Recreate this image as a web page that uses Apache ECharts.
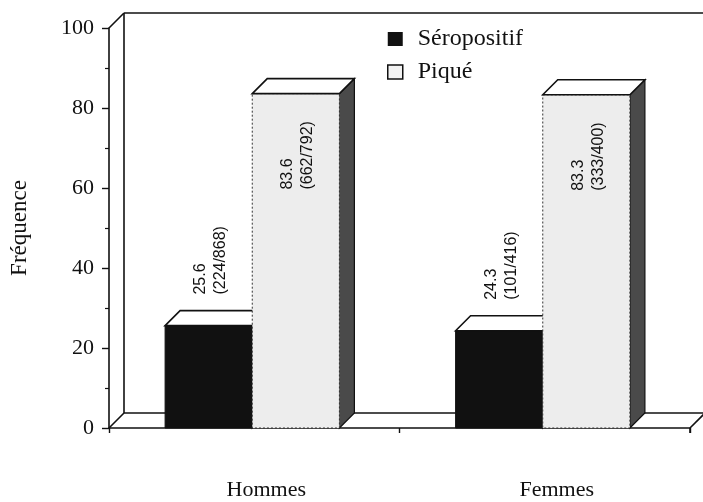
<!DOCTYPE html>
<html>
<head>
<meta charset="utf-8">
<script src="https://cdn.jsdelivr.net/npm/echarts@6/dist/echarts.min.js"></script>
<style>
  html, body { margin: 0; padding: 0; background: #fff; }
  #chart { width: 703px; height: 502px; }
</style>
</head>
<body>
<div id="chart"></div>
<script>
// Fréquence (%) by sex
const categories = ['Hommes', 'Femmes'];
const seropositif = [25.6, 24.3];
const pique = [83.6, 83.3];
const seropositifCounts = ['(224/868)', '(101/416)'];
const piqueCounts = ['(662/792)', '(333/400)'];
const yTicks = [0, 20, 40, 60, 80, 100];

const DEPTH = 15;          // oblique depth of the pseudo-3D drawing, px
const SERIF = 'Liberation Serif';
const SANS = 'Liberation Sans';

const chart = echarts.init(document.getElementById('chart'));

// Back wall, floor and the top-left corner of the box
function renderFrame(params, api) {
  const cs = params.coordSys;
  const l = cs.x, r = cs.x + cs.width, t = cs.y, b = cs.y + cs.height;
  const s = { stroke: '#111', lineWidth: 1.6, fill: null };
  const line = (x1, y1, x2, y2) => ({ type: 'line', shape: { x1, y1, x2, y2 }, style: s });
  return {
    type: 'group',
    children: [
      line(l + DEPTH, t - DEPTH, l + DEPTH, b - DEPTH),
      line(l + DEPTH, t - DEPTH, r + DEPTH + 20, t - DEPTH),
      line(l, t, l + DEPTH, t - DEPTH),
      line(l + DEPTH, b - DEPTH, r + DEPTH, b - DEPTH),
      line(l, b, l + DEPTH, b - DEPTH),
      line(r, b, r + DEPTH, b - DEPTH),
      line(r, b, r, b + 5)
    ]
  };
}

function makeBarRenderer(kind) {
  return function (params, api) {
    const ci = api.value(0);
    const v = api.value(1);
    const catW = api.size([1, 0])[0];
    const barW = catW * 0.3;
    const base = api.coord([ci, 0]);
    const top = api.coord([ci, v]);
    const x0 = kind === 'sero' ? base[0] - barW - 2 : base[0] - 2;
    const x1 = x0 + barW;
    const yb = base[1], yt = top[1];
    const children = [];

    // side face
    children.push({
      type: 'polygon',
      shape: { points: [[x1, yt], [x1 + DEPTH, yt - DEPTH], [x1 + DEPTH, yb - DEPTH], [x1, yb]] },
      style: { fill: kind === 'sero' ? '#111' : '#4a4a4a', stroke: '#111', lineWidth: 1.2 }
    });
    // front face
    children.push({
      type: 'rect',
      shape: { x: x0, y: yt, width: barW, height: yb - yt },
      style: kind === 'sero'
        ? { fill: '#111', stroke: '#111', lineWidth: 1 }
        : { fill: '#ededed', stroke: '#333', lineWidth: 1, lineDash: [2, 2] }
    });
    // top face
    children.push({
      type: 'polygon',
      shape: { points: [[x0, yt], [x0 + DEPTH, yt - DEPTH], [x1 + DEPTH, yt - DEPTH], [x1, yt]] },
      style: { fill: '#fff', stroke: '#111', lineWidth: 1.6 }
    });

    // value label, rotated, reading upward
    const idx = params.dataIndex;
    const txt = v.toFixed(1) + '\n' + (kind === 'sero' ? seropositifCounts[idx] : piqueCounts[idx]);
    const anchorY = kind === 'sero' ? yt - DEPTH - 16 : yt + 96;
    children.push({
      type: 'text',
      x: (x0 + x1) / 2 + 2,
      y: anchorY,
      rotation: Math.PI / 2,
      style: {
        text: txt,
        align: 'left',
        verticalAlign: 'middle',
        fontFamily: SANS,
        fontSize: 16,
        lineHeight: 20,
        fill: '#111'
      }
    });
    return { type: 'group', children };
  };
}

const option = {
  backgroundColor: '#fff',
  animation: false,
  grid: { left: 107, right: 13, top: 28, bottom: 74, containLabel: false },
  legend: {
    orient: 'vertical',
    left: 382,
    top: 22,
    itemWidth: 15,
    itemHeight: 14,
    itemGap: 9,
    icon: 'rect',
    textStyle: { fontFamily: SERIF, fontSize: 24, color: '#111', padding: [0, 0, 0, 10] },
    data: [
      { name: 'Séropositif', itemStyle: { color: '#111', borderWidth: 0 } },
      { name: 'Piqué', itemStyle: { color: '#f2f2f2', borderColor: '#111', borderWidth: 1.5 } }
    ]
  },
  xAxis: {
    type: 'category',
    data: categories,
    axisLine: { lineStyle: { color: '#111', width: 1.6 } },
    axisTick: { show: true, length: 5, lineStyle: { color: '#111', width: 1.4 } },
    axisLabel: { fontFamily: SERIF, fontSize: 22, color: '#111', margin: 51, padding: [0, 0, 0, 24] }
  },
  yAxis: {
    type: 'value',
    min: 0,
    max: 100,
    interval: 20,
    name: 'Fréquence',
    nameLocation: 'middle',
    nameGap: 78,
    nameTextStyle: { fontFamily: SERIF, fontSize: 23, color: '#111' },
    axisLine: { show: true, lineStyle: { color: '#111', width: 1.6 } },
    axisTick: { show: true, length: 7, lineStyle: { color: '#111', width: 1.4 } },
    minorTick: { show: true, splitNumber: 2, length: 4, lineStyle: { color: '#111', width: 1.2 } },
    splitLine: { show: false },
    axisLabel: {
      fontFamily: SERIF, fontSize: 22, color: '#111', margin: 15,
      formatter: (val) => (yTicks.includes(val) ? String(val) : '')
    }
  },
  series: [
    {
      name: 'frame',
      type: 'custom',
      z: 1,
      silent: true,
      renderItem: renderFrame,
      data: [[0, 0]]
    },
    {
      name: 'Séropositif',
      type: 'custom',
      z: 2,
      itemStyle: { color: '#111' },
      renderItem: makeBarRenderer('sero'),
      data: categories.map((c, i) => [i, seropositif[i]])
    },
    {
      name: 'Piqué',
      type: 'custom',
      z: 3,
      itemStyle: { color: '#f2f2f2' },
      renderItem: makeBarRenderer('pique'),
      data: categories.map((c, i) => [i, pique[i]])
    }
  ]
};

chart.setOption(option);
</script>
</body>
</html>
